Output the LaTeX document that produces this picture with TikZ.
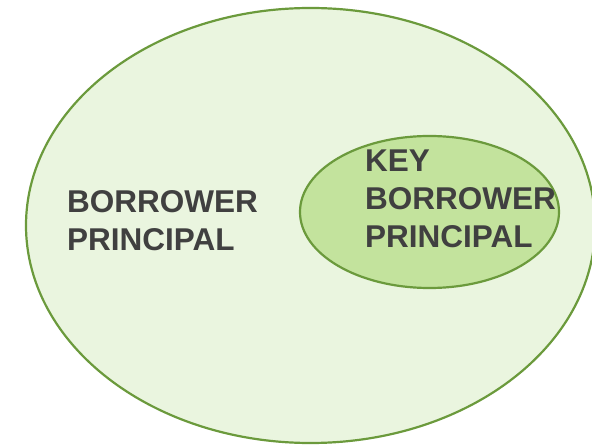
\documentclass[tikz,border=0pt]{standalone}
\usepackage{fontspec}
\setmainfont{Liberation Sans}
\definecolor{outerfill}{HTML}{EAF5DF}
\definecolor{innerfill}{HTML}{C3E39D}
\definecolor{edge}{HTML}{6B9A3C}
\definecolor{txt}{HTML}{404040}
\tikzset{
  setshape/.style={draw=edge, line width=2.2pt},
  label text/.style={anchor=north west, inner sep=0pt, align=left, text=txt,
    font=\fontsize{31.5}{38}\selectfont\bfseries}
}
\begin{document}
\begin{tikzpicture}[x=1pt,y=1pt]
\useasboundingbox (0,0) rectangle (592,445);
\clip (0,0) rectangle (592,445);
\draw[setshape, fill=outerfill] (310.6,219.5) ellipse [x radius=284.6, y radius=217.5];
\draw[setshape, fill=innerfill] (429.5,233) ellipse [x radius=129.5, y radius=76];
\node[label text] (outer) at (67,255) {BORROWER\\PRINCIPAL};
\node[label text] (inner) at (365,295) {KEY\\BORROWER\\PRINCIPAL};
\end{tikzpicture}
\end{document}
